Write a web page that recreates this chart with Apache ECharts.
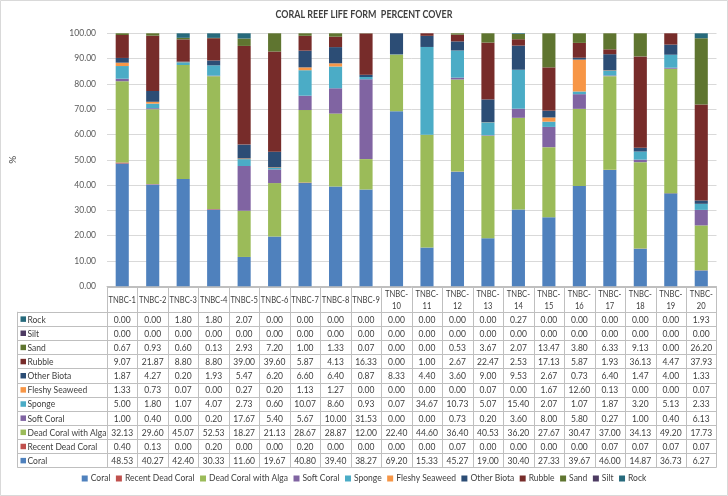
<!DOCTYPE html>
<html>
<head>
<meta charset="utf-8">
<script src="https://cdn.jsdelivr.net/npm/echarts@6/dist/echarts.min.js"></script>
<style>
html,body{margin:0;padding:0;background:#fff;}
#c{width:728px;height:496px;}
</style>
</head>
<body>
<div id="c"></div>
<script>
const categories = ['TNBC-1','TNBC-2','TNBC-3','TNBC-4','TNBC-5','TNBC-6','TNBC-7','TNBC-8','TNBC-9','TNBC-10','TNBC-11','TNBC-12','TNBC-13','TNBC-14','TNBC-15','TNBC-16','TNBC-17','TNBC-18','TNBC-19','TNBC-20'];
const coral = [48.53,40.27,42.40,30.33,11.60,19.67,40.80,39.40,38.27,69.20,15.33,45.27,19.00,30.40,27.33,39.67,46.00,14.87,36.73,6.27];
const recentDeadCoral = [0.40,0.13,0.00,0.20,0.00,0.00,0.20,0.00,0.00,0.00,0.00,0.07,0.00,0.00,0.00,0.00,0.07,0.07,0.07,0.07];
const deadCoralWithAlga = [32.13,29.60,45.07,52.53,18.27,21.13,28.67,28.87,12.00,22.40,44.60,36.40,40.53,36.20,27.67,30.47,37.00,34.13,49.20,17.73];
const softCoral = [1.00,0.40,0.00,0.20,17.67,5.40,5.67,10.00,31.53,0.00,0.00,0.73,0.20,3.60,8.00,5.80,0.27,1.00,0.40,6.13];
const sponge = [5.00,1.80,1.07,4.07,2.73,0.60,10.07,8.60,0.93,0.07,34.67,10.73,5.07,15.40,2.07,1.07,1.87,3.20,5.13,2.33];
const fleshySeaweed = [1.33,0.73,0.07,0.00,0.27,0.20,1.13,1.27,0.00,0.00,0.00,0.00,0.07,0.00,1.67,12.60,0.13,0.00,0.00,0.07];
const otherBiota = [1.87,4.27,0.20,1.93,5.47,6.20,6.60,6.40,0.87,8.33,4.40,3.60,9.00,9.53,2.67,0.73,6.40,1.47,4.00,1.33];
const rubble = [9.07,21.87,8.80,8.80,39.00,39.60,5.87,4.13,16.33,0.00,1.00,2.67,22.47,2.53,17.13,5.87,1.93,36.13,4.47,37.93];
const sand = [0.67,0.93,0.60,0.13,2.93,7.20,1.00,1.33,0.07,0.00,0.00,0.53,3.67,2.07,13.47,3.80,6.33,9.13,0.00,26.20];
const silt = [0,0,0,0,0,0,0,0,0,0,0,0,0,0,0,0,0,0,0,0];
const rock = [0.00,0.00,1.80,1.80,2.07,0.00,0.00,0.00,0.00,0.00,0.00,0.00,0.00,0.27,0.00,0.00,0.00,0.00,0.00,1.93];

const seriesNames = ['Coral','Recent Dead Coral','Dead Coral with Alga','Soft Coral','Sponge','Fleshy Seaweed','Other Biota','Rubble','Sand','Silt','Rock'];
const seriesData = [coral,recentDeadCoral,deadCoralWithAlga,softCoral,sponge,fleshySeaweed,otherBiota,rubble,sand,silt,rock];
const colors = ['#4F81BD','#C0504D','#9BBB59','#8064A2','#4BACC6','#F79646','#2C4D75','#772C2A','#5F7530','#4D3B62','#276A7C'];
const titleText = 'CORAL REEF LIFE FORM  PERCENT COVER';

const FONT = 'Lato, "Noto Sans", sans-serif';
const GRID = {left:106, right:11.5, top:33.3, bottom:209.7};
const TEXT = '#404040';
const LINE = '#BFBFBF';
const SX = 0.85;
const SX_HEAD = 0.76;

const chart = echarts.init(document.getElementById('c'), null, {renderer:'canvas'});

const option = {
  backgroundColor:'#fff',
  animation:false,
  color: colors,
  legend:{
    bottom:8, left:'center',
    icon:'rect', itemWidth:6, itemHeight:6, itemGap:5.5,
    textStyle:{fontFamily:FONT, fontSize:8.5, color:'#404040', padding:[0,0,0,-2]},
    data: seriesNames
  },
  grid: GRID,
  xAxis:{
    type:'category', data:categories,
    axisLine:{show:true, lineStyle:{color:LINE}},
    axisTick:{show:false},
    axisLabel:{show:false},
    splitLine:{show:false}
  },
  yAxis:{
    type:'value', min:0, max:100, interval:10,
    name:'%', nameLocation:'middle', nameGap:89, nameRotate:90,
    nameTextStyle:{fontFamily:FONT, fontSize:10, color:TEXT},
    axisLine:{show:false}, axisTick:{show:false},
    axisLabel:{fontFamily:FONT, fontSize:8.5, color:'#595959', margin:11,
      formatter:v=>v.toFixed(2)},
    splitLine:{lineStyle:{color:'#D9D9D9'}}
  },
  series: seriesNames.map((n,i)=>({
    name:n, type:'bar', stack:'total', barWidth:'43%',
    data: seriesData[i],
    itemStyle:{color:colors[i]}
  }))
};
chart.setOption(option);

function buildTable(){
  const els = [];
  const n = categories.length;
  const x0 = chart.convertToPixel({xAxisIndex:0}, 0);
  const x1 = chart.convertToPixel({xAxisIndex:0}, 1);
  const colW = x1 - x0;
  const left = x0 - colW/2;
  const right = left + colW*n;
  const top = chart.convertToPixel({yAxisIndex:0}, 0) + 0.5;
  const headerH = 25;
  const rowH = 14.15;
  const labelLeft = 17.3;
  const rows = seriesNames.slice().reverse();
  const rowsData = seriesData.slice().reverse();
  const rowsColor = colors.slice().reverse();
  const bodyTop = top + headerH;
  const bottom = bodyTop + rowH*rows.length;
  const ls = {stroke:LINE, lineWidth:1};
  const px = v => Math.round(v) + 0.5;
  els.push({type:'text', x:364, y:15, scaleX:SX, silent:true,
    style:{text:titleText, fill:'#404040', font:'bold 10.5px '+FONT, align:'center', verticalAlign:'middle'}});
  els.push({type:'line', shape:{x1:left,y1:px(top),x2:right,y2:px(top)}, style:ls, silent:true});
  for(let r=0;r<=rows.length;r++){
    const y = px(bodyTop + r*rowH);
    els.push({type:'line', shape:{x1:labelLeft,y1:y,x2:right,y2:y}, style:ls, silent:true});
  }
  for(let c=0;c<=n;c++){
    const x = px(left + c*colW);
    els.push({type:'line', shape:{x1:x,y1:top,x2:x,y2:bottom}, style:ls, silent:true});
  }
  els.push({type:'line', shape:{x1:px(labelLeft),y1:bodyTop,x2:px(labelLeft),y2:bottom}, style:ls, silent:true});
  categories.forEach((cat,i)=>{
    const cx = chart.convertToPixel({xAxisIndex:0}, i);
    const parts = cat.split('-');
    const txt = parts[1].length > 1 ? parts[0]+'-\n'+parts[1] : cat;
    els.push({type:'text', x:cx, y:top+headerH/2+0.5, scaleX:SX_HEAD, silent:true,
      style:{text:txt, fill:TEXT, font:'10px '+FONT, align:'center', verticalAlign:'middle', lineHeight:12}});
  });
  rows.forEach((name,r)=>{
    const cy = bodyTop + r*rowH + rowH/2 + 0.5;
    els.push({type:'rect', shape:{x:20.5,y:cy-3,width:5.5,height:5.5}, style:{fill:rowsColor[r]}, silent:true});
    els.push({type:'text', x:27.5, y:cy, scaleX:SX, silent:true,
      style:{text:name, fill:TEXT, font:'10px '+FONT, align:'left', verticalAlign:'middle'}});
    rowsData[r].forEach((v,i)=>{
      const cx = chart.convertToPixel({xAxisIndex:0}, i);
      els.push({type:'text', x:cx, y:cy, scaleX:SX, silent:true,
        style:{text:v.toFixed(2), fill:TEXT, font:'10px '+FONT, align:'center', verticalAlign:'middle'}});
    });
  });
  els.push({type:'rect', shape:{x:0.5,y:0.5,width:727,height:495}, style:{fill:null, stroke:'#D9D9D9', lineWidth:1}, silent:true, z:-1});
  chart.setOption({graphic:{elements:els}});
}
buildTable();
</script>
</body>
</html>
